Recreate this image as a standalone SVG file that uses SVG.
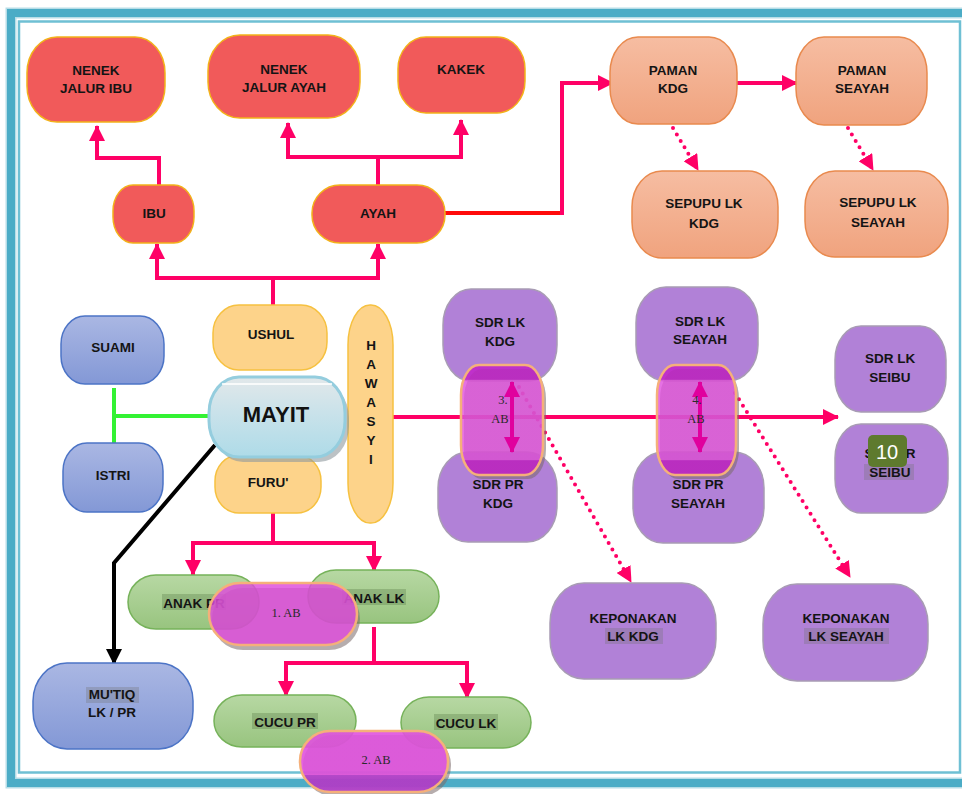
<svg xmlns="http://www.w3.org/2000/svg" width="962" height="794" viewBox="0 0 962 794">
<style>
.red{fill:#F15A5A;stroke:#F2B21A;stroke-width:1.5}
.sal{fill:url(#gSal);stroke:#E98A4E;stroke-width:1.5}
.blu{fill:url(#gBlue);stroke:#4C74C6;stroke-width:1.5}
.yel{fill:#FDD38A;stroke:#F6C140;stroke-width:1.5}
.pur{fill:#B181D7;stroke:#A89CB4;stroke-width:1.5}
.grn{fill:url(#gGrn);stroke:#76B25A;stroke-width:1.5}
.t{font-family:"Liberation Sans",Arial,sans-serif;font-weight:bold;font-size:13.5px;fill:#141414;text-anchor:middle}
.ab{font-family:"Liberation Serif","Times New Roman",serif;font-size:12.5px;fill:#2a2a2a;text-anchor:middle}
.hl{fill:#6f6f6f;opacity:0.3}
.hg{fill:#4f6f3f;opacity:0.3}
.pk{fill:none;stroke:#FF0066;stroke-width:4}
.dot{fill:none;stroke:#FF0066;stroke-width:4;stroke-linecap:round;stroke-dasharray:0 7.5}
.ov{stroke:#F5B07A;stroke-width:2.5}
.sh{fill:#7a6a6a;opacity:0.55}
</style>
<defs>
<linearGradient id="gSal" x1="0" y1="0" x2="0" y2="1"><stop offset="0" stop-color="#F6BDA2"/><stop offset="1" stop-color="#F0A37E"/></linearGradient>
<linearGradient id="gBlue" x1="0" y1="0" x2="0" y2="1"><stop offset="0" stop-color="#AAB7E3"/><stop offset="1" stop-color="#8398D6"/></linearGradient>
<linearGradient id="gGrn" x1="0" y1="0" x2="0" y2="1"><stop offset="0" stop-color="#B7D8A3"/><stop offset="1" stop-color="#98C47F"/></linearGradient>
<linearGradient id="gMay" x1="0" y1="0" x2="0" y2="1"><stop offset="0" stop-color="#E2E8EA"/><stop offset="0.45" stop-color="#C9E2EA"/><stop offset="1" stop-color="#AEDBE8"/></linearGradient>
<linearGradient id="gOv" x1="0" y1="0" x2="0" y2="1"><stop offset="0" stop-color="#C21FC8"/><stop offset="0.13" stop-color="#C21FC8"/><stop offset="0.14" stop-color="#E052DE"/><stop offset="0.86" stop-color="#E052DE"/><stop offset="0.87" stop-color="#C21FC8"/><stop offset="1" stop-color="#C21FC8"/></linearGradient>
<linearGradient id="gOv2" x1="0" y1="0" x2="0" y2="1"><stop offset="0" stop-color="#E052DE"/><stop offset="0.72" stop-color="#E052DE"/><stop offset="0.73" stop-color="#B23CCB"/><stop offset="1" stop-color="#B23CCB"/></linearGradient>
<marker id="ap" viewBox="0 0 16 16" refX="15" refY="8" markerWidth="16" markerHeight="16" markerUnits="userSpaceOnUse" orient="auto"><path d="M0,0 L16,8 L0,16 z" fill="#FF0066"/></marker>
<marker id="ak" viewBox="0 0 16 16" refX="15" refY="8" markerWidth="16" markerHeight="16" markerUnits="userSpaceOnUse" orient="auto"><path d="M0,0 L16,8 L0,16 z" fill="#000"/></marker>
<marker id="am" viewBox="0 0 16 16" refX="15" refY="8" markerWidth="16" markerHeight="16" markerUnits="userSpaceOnUse" orient="auto-start-reverse"><path d="M0,0 L16,8 L0,16 z" fill="#E0009E"/></marker>
</defs>

<g id="frame">
<rect x="0" y="0" width="962" height="794" fill="#fff"/>
<rect x="11" y="13" width="970" height="770" fill="none" stroke="#B7DDE7" stroke-width="11"/>
<rect x="11" y="13" width="970" height="770" fill="none" stroke="#4BACC6" stroke-width="8"/>
<rect x="19" y="21.5" width="941" height="751" fill="none" stroke="#6FC0D4" stroke-width="2.5"/>
</g>

<g id="connectors">
<path class="pk" d="M159,185 V158 H97 V126" marker-end="url(#ap)"/>
<path class="pk" d="M378,185 V157 H288 V123" marker-end="url(#ap)"/>
<path class="pk" d="M378,157 H461 V120" marker-end="url(#ap)"/>
<path class="pk" d="M273,305 V278 H157 V244" marker-end="url(#ap)"/>
<path class="pk" d="M273,278 H378 V244" marker-end="url(#ap)"/>
<path d="M445,213 H564" fill="none" stroke="#FF0A0A" stroke-width="4"/>
<path class="pk" d="M562,215 V83 H613" marker-end="url(#ap)"/>
<path class="pk" d="M737,83 H797" marker-end="url(#ap)"/>
<path class="dot" d="M673,128 L698,170" marker-end="url(#ap)"/>
<path class="dot" d="M848,128 L873,170" marker-end="url(#ap)"/>
<path d="M114,388 V447 M114,416 H209" fill="none" stroke="#33F233" stroke-width="4"/>
<path d="M215,445 L114,563 V664" fill="none" stroke="#000" stroke-width="4" marker-end="url(#ak)"/>
<path class="pk" d="M393,417 H838" marker-end="url(#ap)"/>
<path class="dot" d="M519,387 L631,582" marker-end="url(#ap)"/>
<path class="dot" d="M735,393 L850,577" marker-end="url(#ap)"/>
<path class="pk" d="M273,513 V543 H193 V575" marker-end="url(#ap)"/>
<path class="pk" d="M273,543 H374 V571" marker-end="url(#ap)"/>
<path class="pk" d="M374,627 V663 H286 V696" marker-end="url(#ap)"/>
<path class="pk" d="M374,663 H467 V698" marker-end="url(#ap)"/>
</g>

<g id="nenek-jalur-ibu"><rect class="red" x="27" y="37" width="138" height="85" rx="30" ry="36"/><text class="t" x="96" y="75">NENEK</text><text class="t" x="96" y="93">JALUR IBU</text></g>
<g id="nenek-jalur-ayah"><rect class="red" x="208" y="35" width="152" height="83" rx="32" ry="36"/><text class="t" x="284" y="74">NENEK</text><text class="t" x="284" y="92">JALUR AYAH</text></g>
<g id="kakek"><rect class="red" x="398" y="37" width="127" height="76" rx="28" ry="32"/><text class="t" x="461" y="74">KAKEK</text></g>
<g id="ibu"><rect class="red" x="113" y="185" width="81" height="58" rx="20" ry="26"/><text class="t" x="154" y="218">IBU</text></g>
<g id="ayah"><rect class="red" x="312" y="185" width="133" height="58" rx="28" ry="28"/><text class="t" x="378" y="218">AYAH</text></g>

<g id="paman-kdg"><rect class="sal" x="610" y="37" width="127" height="87" rx="28" ry="36"/><text class="t" x="673" y="75">PAMAN</text><text class="t" x="673" y="93">KDG</text></g>
<g id="paman-seayah"><rect class="sal" x="796" y="37" width="131" height="88" rx="28" ry="36"/><text class="t" x="862" y="75">PAMAN</text><text class="t" x="862" y="93">SEAYAH</text></g>
<g id="sepupu-lk-kdg"><rect class="sal" x="632" y="171" width="146" height="87" rx="30" ry="36"/><text class="t" x="704" y="208">SEPUPU LK</text><text class="t" x="704" y="228">KDG</text></g>
<g id="sepupu-lk-seayah"><rect class="sal" x="805" y="171" width="143" height="86" rx="30" ry="36"/><text class="t" x="878" y="207">SEPUPU LK</text><text class="t" x="878" y="227">SEAYAH</text></g>

<g id="suami"><rect class="blu" x="61" y="316" width="103" height="68" rx="24" ry="28"/><text class="t" x="113" y="352">SUAMI</text></g>
<g id="istri"><rect class="blu" x="63" y="443" width="100" height="69" rx="24" ry="28"/><text class="t" x="113" y="480">ISTRI</text></g>
<g id="mutiq"><rect class="blu" x="33" y="663" width="160" height="86" rx="34" ry="38"/><rect class="hl" x="86" y="687" width="53" height="16"/><text class="t" x="112" y="699">MU'TIQ</text><text class="t" x="112" y="717">LK / PR</text></g>

<g id="ushul"><rect class="yel" x="213" y="305" width="114" height="65" rx="26" ry="28"/><text class="t" x="271" y="339">USHUL</text></g>
<g id="furu"><rect class="yel" x="215" y="455" width="106" height="58" rx="24" ry="26"/><text class="t" x="268" y="487">FURU'</text></g>
<g id="hawasyi"><rect class="yel" x="348" y="305" width="45" height="218" rx="22" ry="40"/>
<text class="t" x="371" y="350">H</text><text class="t" x="371" y="369">A</text><text class="t" x="371" y="388">W</text><text class="t" x="371" y="407">A</text><text class="t" x="371" y="426">S</text><text class="t" x="371" y="445">Y</text><text class="t" x="371" y="464">I</text></g>

<g id="mayit">
<rect x="213" y="382" width="136" height="80" rx="30" ry="36" fill="#8f9a9e" opacity="0.6"/>
<rect x="209" y="377" width="136" height="80" rx="30" ry="36" fill="url(#gMay)" stroke="#94CDDE" stroke-width="3"/>
<path d="M222,384 H332" stroke="#fff" stroke-width="2" opacity="0.8"/>
<text x="276" y="422" font-family="'Liberation Sans',Arial,sans-serif" font-weight="bold" font-size="22" fill="#111" text-anchor="middle">MAYIT</text>
</g>

<g id="sdr-lk-kdg"><rect class="pur" x="443" y="289" width="114" height="92" rx="28" ry="36"/><text class="t" x="500" y="327">SDR LK</text><text class="t" x="500" y="346">KDG</text></g>
<g id="sdr-pr-kdg"><rect class="pur" x="438" y="452" width="119" height="90" rx="30" ry="36"/><text class="t" x="498" y="489">SDR PR</text><text class="t" x="498" y="508">KDG</text></g>
<g id="sdr-lk-seayah"><rect class="pur" x="636" y="287" width="122" height="94" rx="30" ry="36"/><text class="t" x="700" y="326">SDR LK</text><text class="t" x="700" y="344">SEAYAH</text></g>
<g id="sdr-pr-seayah"><rect class="pur" x="633" y="452" width="131" height="91" rx="30" ry="36"/><text class="t" x="698" y="489">SDR PR</text><text class="t" x="698" y="508">SEAYAH</text></g>
<g id="sdr-lk-seibu"><rect class="pur" x="835" y="326" width="111" height="86" rx="26" ry="34"/><text class="t" x="890" y="363">SDR LK</text><text class="t" x="890" y="382">SEIBU</text></g>
<g id="sdr-pr-seibu"><rect class="pur" x="835" y="424" width="113" height="89" rx="26" ry="34"/><rect class="hl" x="864" y="464" width="50" height="16"/><text class="t" x="890" y="458">SDR PR</text><text class="t" x="890" y="477">SEIBU</text></g>
<g id="keponakan-lk-kdg"><rect class="pur" x="550" y="583" width="166" height="96" rx="34" ry="40"/><rect class="hl" x="605" y="628" width="58" height="16"/><text class="t" x="633" y="623">KEPONAKAN</text><text class="t" x="633" y="641">LK  KDG</text></g>
<g id="keponakan-lk-seayah"><rect class="pur" x="763" y="584" width="165" height="97" rx="34" ry="40"/><rect class="hl" x="804" y="628" width="85" height="16"/><text class="t" x="846" y="623">KEPONAKAN</text><text class="t" x="846" y="641">LK  SEAYAH</text></g>

<g id="anak-pr"><rect class="grn" x="128" y="575" width="131" height="54" rx="28" ry="27"/><rect class="hg" x="162" y="594" width="64" height="16"/><text class="t" x="194" y="608">ANAK PR</text></g>
<g id="anak-lk"><rect class="grn" x="308" y="570" width="131" height="53" rx="28" ry="27"/><rect class="hg" x="342" y="589" width="64" height="16"/><text class="t" x="374" y="603">ANAK LK</text></g>
<g id="cucu-pr"><rect class="grn" x="214" y="695" width="142" height="52" rx="28" ry="26"/><rect class="hg" x="252" y="713" width="66" height="16"/><text class="t" x="285" y="727">CUCU PR</text></g>
<g id="cucu-lk"><rect class="grn" x="401" y="697" width="130" height="51" rx="28" ry="26"/><rect class="hg" x="434" y="714" width="64" height="16"/><text class="t" x="466" y="728">CUCU LK</text></g>

<g id="ab-1"><rect class="sh" x="212" y="588" width="148" height="62" rx="31" ry="31"/><rect class="ov" x="209" y="583" width="148" height="62" rx="31" ry="31" fill="#DE4CDC" fill-opacity="0.82"/><text class="ab" x="286" y="617">1. AB</text></g>
<g id="ab-2"><rect class="sh" x="303" y="735" width="148" height="61" rx="30" ry="30"/><rect class="ov" x="300" y="731" width="148" height="61" rx="30" ry="30" fill="url(#gOv2)" fill-opacity="0.9"/><text class="ab" x="376" y="764">2. AB</text></g>
<g id="ab-3"><rect class="sh" x="464" y="369" width="82" height="110" rx="18" ry="30"/><rect class="ov" x="461" y="365" width="82" height="110" rx="18" ry="30" fill="url(#gOv)" fill-opacity="0.82"/><path d="M512,382 V452" stroke="#E0009E" stroke-width="4" marker-start="url(#am)" marker-end="url(#am)"/><text class="ab" x="503" y="404">3.</text><text class="ab" x="500" y="423">AB</text></g>
<g id="ab-4"><rect class="sh" x="660" y="369" width="79" height="110" rx="18" ry="30"/><rect class="ov" x="657" y="365" width="79" height="110" rx="18" ry="30" fill="url(#gOv)" fill-opacity="0.82"/><path d="M700,382 V452" stroke="#E0009E" stroke-width="4" marker-start="url(#am)" marker-end="url(#am)"/><text class="ab" x="697" y="404">4.</text><text class="ab" x="696" y="423">AB</text></g>

<g id="badge-10"><rect x="868" y="435" width="39" height="32" rx="5" fill="#5E7A2E"/><text x="887" y="459" font-family="'Liberation Sans',Arial,sans-serif" font-size="20" fill="#fff" text-anchor="middle">10</text></g>
</svg>
